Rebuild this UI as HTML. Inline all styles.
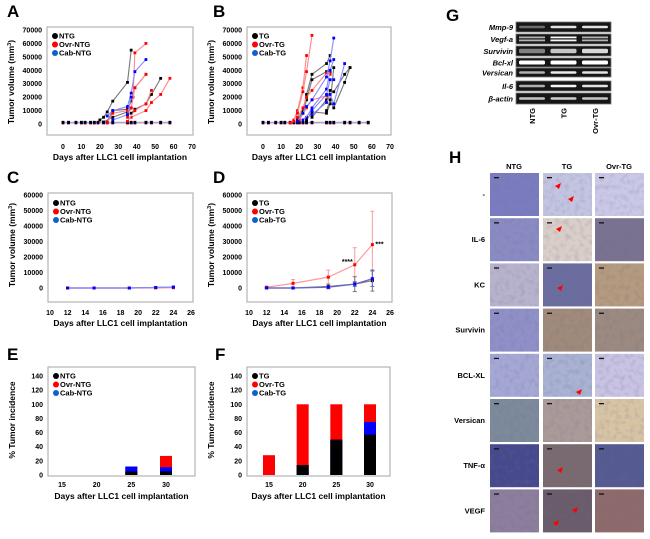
<!DOCTYPE html>
<html><head><meta charset="utf-8"><style>
html,body{margin:0;padding:0;background:#fff}
svg{display:block;font-family:"Liberation Sans",Arial,sans-serif}
.t{font-size:7px;font-weight:bold;fill:#000}
.ti{font-size:8.5px;font-weight:bold;fill:#000}
.pl{font-size:17px;font-weight:bold;fill:#000}
.lg{font-size:7.5px;font-weight:bold}
</style></head><body>
<svg id="fig" width="650" height="539" viewBox="0 0 650 539">
<defs>
<filter id="tex" x="0" y="0" width="100%" height="100%"><feTurbulence type="fractalNoise" baseFrequency="0.2" numOctaves="2" seed="3"/><feColorMatrix values="0 0 0 0 0.15  0 0 0 0 0.15  0 0 0 0 0.3  0 0 0 0.9 -0.4"/><feComposite in2="SourceGraphic" operator="in"/></filter>
</defs>
</svg>
<script>
// ---------- DATA ----------
const aBaseDays=[0,3,7,10,12,15,17,19,22,24,27,35,37,39,45,48,53,58];
const aBlack=[[[20,3000],[22,5000],[24,9000],[27,17000],[35,31000],[37,55000]],[[24,2000],[27,10000],[35,11000],[37,17000],[39,27000],[45,37000]],[[37,8000],[39,11000],[45,15000],[48,22000],[53,34000]],[[22,1500],[27,5000],[35,9000],[37,12000]]];
const aRed=[[[35,5000],[37,12000],[38,20000],[39,53000],[45,60000]],[[24,1000],[27,8000],[35,10000],[37,12000],[39,27000],[45,37000]],[[37,5000],[45,10000],[48,16000],[53,22000],[58,34000]],[[35,2000],[39,10000],[45,15000],[48,25000]]];
const aBlue=[[[24,6000],[27,10000],[35,13000],[37,23000],[39,39000],[45,48000]],[[27,3000],[35,7000],[37,20000]]];
const bBaseDays=[0,3,7,10,12,15,17,19,20,22,24,27,35,37,39,45,48,53,58];
const bBlack=[[[19,3000],[22,10000],[24,22000],[27,37000],[35,45000],[37,51000]],[[22,8000],[24,18000],[27,33000],[35,39000],[37,39000]],[[24,3000],[27,9000],[35,8000],[37,15000],[39,42000]],[[27,5000],[35,18000],[37,25000],[39,24000],[45,37000],[48,42000]],[[35,10000],[37,18000],[39,12000],[45,31000],[48,42000]]];
const bRed=[[[15,1000],[17,3000],[19,10000],[22,27000],[24,51000]],[[17,2000],[19,8000],[22,24000],[24,39000],[27,66000]],[[19,5000],[22,12000],[24,20000],[27,25000],[35,38000],[37,37000]],[[20,3000],[24,12000],[27,18000],[35,21000]]];
const bBlue=[[[19,2000],[22,8000],[24,13000],[27,18000],[35,35000],[37,47000],[39,64000]],[[24,5000],[27,12000],[35,26000],[37,40000],[39,48000]],[[22,3000],[27,10000],[35,22000],[37,33000],[39,33000]],[[27,7000],[35,16000],[37,22000],[39,15000],[45,45000]]];
const cdDays=[12,15,19,22,24];
const cBlack=[0,0,0,300,500];
const cRed=[0,0,0,100,200];
const cBlue=[0,0,0,300,600];
const dRed=[500,3000,7000,15000,28000];
const dRedErr=[500,2500,4500,11000,21500];
const dBlack=[0,0,1000,2500,4800];
const dBlackErr=[300,500,1500,4800,6800];
const dBlue=[0,0,500,2500,6000];
const dBlueErr=[200,300,800,1500,5000];
const efCats=[15,20,25,30];
const eBlack=[0,0,5,5];
const eBlue=[0,0,12,11];
const eRed=[0,0,12,27];
const fBlack=[0,14,50,57];
const fBlue=[0,14,50,75];
const fRed=[28,100,100,100];
const volTicks=[0,10000,20000,30000,40000,50000,60000,70000];
const volTicks60=[0,10000,20000,30000,40000,50000,60000];
const dayTicks=[0,10,20,30,40,50,60,70];
const dayTicksCD=[10,12,14,16,18,20,22,24,26];
const incTicks=[0,20,40,60,80,100,120,140];
const gelGenes=["Mmp-9","Vegf-a","Survivin","Bcl-xl","Versican","Il-6","β-actin"];
const gelLanes=["NTG","TG","Ovr-TG"];
const gelIntensity=[[0.25,0.85,0.85],[0.6,0.95,0.6],[0.35,0.7,0.8],[1,1,1],[0.6,0.9,0.85],[0.6,0.95,0.85],[0.7,0.75,0.7]];
const ihcRows=["-","IL-6","KC","Survivin","BCL-XL","Versican","TNF-α","VEGF"];
const ihcCols=["NTG","TG","Ovr-TG"];
const ihcColors=[["#7b7cc0","#c3c5e0","#c9c9e6"],["#8a8bc2","#d9cfc8","#7a7290"],["#b8b3cc","#6a6d9e","#b49a7e"],["#9090c8","#a08a7a","#9c8a80"],["#a5a8d4","#a9b2d2","#c8c3e2"],["#7d8a9a","#ab9a98","#d8c4a4"],["#464a8c","#7a6a70","#555a90"],["#8c7e9c","#6a5c6a","#8e6a6a"]];

// ---------- HELPERS ----------
const NS="http://www.w3.org/2000/svg";const svg=document.getElementById('fig');
function mk(tag,at,parent,txt){const e=document.createElementNS(NS,tag);for(const k in at)e.setAttribute(k,at[k]);if(txt!==undefined)e.textContent=txt;(parent||svg).appendChild(e);return e;}
function lin(d0,d1,r0,r1){return v=>r0+(v-d0)/(d1-d0)*(r1-r0);}
function group(name){const g=mk('g',{});return g;}
function box(g,x0,y0,x1,y1){const r=mk('rect',{x:x0,y:y0,width:x1-x0,height:y1-y0,fill:'none',stroke:'#b4b4b4','stroke-width':1.2},g);}
function yAxis(g,ticks,ys,xr,fmt){ticks.forEach(v=>{const t=mk('text',{x:xr,y:ys(v)+2.5,'text-anchor':'end',class:'t'},g,fmt?fmt(v):v);});}
function xAxis(g,ticks,xs,y){ticks.forEach(v=>{const t=mk('text',{x:xs(v),y:y,'text-anchor':'middle',class:'t'},g,v);});}
function titles(g,ytxt,yx,yy,xtxt,xx,xy,sup){
 const t=mk('text',{x:xx,y:xy,'text-anchor':'middle',class:'ti'},g,xtxt);
 const yt=mk('text',{transform:`translate(${yx},${yy}) rotate(-90)`,'text-anchor':'middle',class:'ti'},g);
 yt.textContent=ytxt;if(sup){mk('tspan',{dy:-3,'font-size':5.5},yt,'3');mk('tspan',{dy:3},yt,')');}
}
function legend(g,x,y,names){const cols=['#000','#f00','#1060d0'];names.forEach((n,i)=>{mk('circle',{cx:x,cy:y+i*8.5,r:3,fill:cols[i]},g);const t=mk('text',{x:x+4,y:y+i*8.5+2.7,class:'lg'},g,n);});}
function letter(x,y,l){const t=mk('text',{x:x,y:y,class:'pl'},svg,l);}
function series(g,pts,xs,ys,col,line){const s=mk('g',{},g);
 mk('polyline',{points:pts.map(p=>xs(p[0])+','+ys(p[1])).join(' '),fill:'none',stroke:line,'stroke-width':1.1},s);
 pts.forEach(p=>mk('rect',{x:xs(p[0])-1.4,y:ys(p[1])-1.4,width:2.8,height:2.8,fill:col},s));}
function baseline(g,days,xs,ys){[['#ffb0b0','#f00',-1],['#a0a0ff','#00f',0],['#aaa','#000',1]].forEach(c=>{
 series(g,days.map(d=>[d,1000+c[2]*300]),xs,ys,c[1],c[0]);});}

// ---------- PANEL A / B ----------
function volPanel(name,x0,x1,x00,x70,baseDays,blk,red,blu,leg){
 const g=group(name);const xs=lin(0,70,x00,x70);const ys=lin(0,70000,124,30);
 box(g,x0,27,x1,135);yAxis(g,volTicks,ys,x0-5);xAxis(g,dayTicks,xs,149);
 baseline(g,baseDays,xs,ys);
 blk.forEach(p=>series(g,p,xs,ys,'#000','#777'));red.forEach(p=>series(g,p,xs,ys,'#f00','#f88'));blu.forEach(p=>series(g,p,xs,ys,'#00f','#88f'));
 legend(g,x0+8,36,leg);titles(g,'Tumor volume (mm',15+(x0-48),82,'Days after LLC1 cell implantation',(x0+x1)/2,160,true);
}
letter(7,17,'A');letter(213,17,'B');
volPanel('chart-a',47,193,63,192,aBaseDays,aBlack,aRed,aBlue,['NTG','Ovr-NTG','Cab-NTG']);
volPanel('chart-b',247,391,263,390,bBaseDays,bBlack,bRed,bBlue,['TG','Ovr-TG','Cab-TG']);

// ---------- PANEL C / D ----------
function cdPanel(name,x0,x1,sets,leg,stars){
 const g=group(name);const xs=lin(10,26,x0+2,x1-2);const ys=lin(0,60000,288,195);
 box(g,x0,193,x1,302);yAxis(g,volTicks60,ys,x0-5);xAxis(g,dayTicksCD,xs,315);
 sets.forEach(s=>{const sg=mk('g',{},g);
  if(s.e)cdDays.forEach((d,i)=>{const x=xs(d),a=ys(s.v[i]+s.e[i]),b=ys(s.v[i]-s.e[i]);mk('line',{x1:x,x2:x,y1:a,y2:b,stroke:s.l,'stroke-width':1},sg);mk('line',{x1:x-2,x2:x+2,y1:a,y2:a,stroke:s.l},sg);mk('line',{x1:x-2,x2:x+2,y1:b,y2:b,stroke:s.l},sg);});
  mk('polyline',{points:cdDays.map((d,i)=>xs(d)+','+ys(s.v[i])).join(' '),fill:'none',stroke:s.l,'stroke-width':1.2},sg);
  cdDays.forEach((d,i)=>mk('rect',{x:xs(d)-1.5,y:ys(s.v[i])-1.5,width:3,height:3,fill:s.c},sg));});
 if(stars){mk('text',{x:xs(22)-2,y:ys(15000)-1,'text-anchor':'end',class:'t'},g,'****');mk('text',{x:xs(24)+3,y:ys(28000)+2,class:'t'},g,'***');}
 legend(g,x0+8,203,leg);titles(g,'Tumor volume (mm',15+(x0-48),245,'Days after LLC1 cell implantation',(x0+x1)/2,326,true);
}
letter(7,183,'C');letter(213,183,'D');
cdPanel('chart-c',48,193,[{n:'ntg',v:cBlack,c:'#000',l:'#555'},{n:'ovr-ntg',v:cRed,c:'#f00',l:'#f88'},{n:'cab-ntg',v:cBlue,c:'#00f',l:'#88f'}],['NTG','Ovr-NTG','Cab-NTG'],false);
cdPanel('chart-d',247,392,[{n:'ovr-tg',v:dRed,e:dRedErr,c:'#f00',l:'#f99'},{n:'tg',v:dBlack,e:dBlackErr,c:'#000',l:'#777'},{n:'cab-tg',v:dBlue,e:dBlueErr,c:'#00f',l:'#66c'}],['TG','Ovr-TG','Cab-TG'],true);

// ---------- PANEL E / F ----------
function barPanel(name,x0,x1,c15,c30,blk,blu,red,leg){
 const g=group(name);const xs=lin(15,30,c15,c30);const ys=lin(0,140,475,376);
 box(g,x0,367,x1,476);yAxis(g,incTicks,ys,x0-5);xAxis(g,efCats,xs,487);
 efCats.forEach((c,i)=>{const w=12,x=xs(c)-w/2;
  [[red[i],'#f00','bar-ovr-'+c],[blu[i],'#00f','bar-cab-'+c],[blk[i],'#000','bar-base-'+c]].forEach(s=>{if(s[0]>0){const r=mk('rect',{x:x,y:ys(s[0]),width:w,height:ys(0)-ys(s[0]),fill:s[1]},g);}});});
 legend(g,x0+8,376,leg);titles(g,'% Tumor incidence',15+(x0-48),420,'Days after LLC1 cell implantation',(x0+x1)/2,499,false);
}
letter(7,360,'E');letter(215,360,'F');
barPanel('chart-e',48,195,62,166,eBlack,eBlue,eRed,['NTG','Ovr-NTG','Cab-NTG']);
barPanel('chart-f',247,390,269,370,fBlack,fBlue,fRed,['TG','Ovr-TG','Cab-TG']);

// ---------- PANEL G ----------
letter(446,21,'G');
(function(){const g=group('gel-panel');const rows=[[22,32],[34,44],[46,56],[58,67],[68,77],[81,91],[93,104]];
 gelGenes.forEach((n,i)=>{const [a,b]=rows[i];
  const t=mk('text',{x:513,y:(a+b)/2+3,'text-anchor':'end',class:'lg','font-style':'italic'},g,n);
  const r=mk('rect',{x:516,y:a,width:95,height:b-a,fill:'#161616',stroke:'#777','stroke-width':0.8},g);
  gelIntensity[i].forEach((v,j)=>{const cx=532+j*31.5,gv=Math.round(60+v*195);const col=`rgb(${gv},${gv},${gv})`;
   if(i===1){mk('rect',{x:cx-13,y:a+2.5,width:26,height:1.8,fill:col},g);mk('rect',{x:cx-13,y:a+5.5,width:26,height:1.8,fill:col},g);}
   else{const h=i===2?4.5:(i===3?4:2.5);mk('rect',{x:cx-13,y:(a+b)/2-h/2,width:26,height:h,rx:1.5,fill:col},g);}});});
 gelLanes.forEach((n,j)=>{const t=mk('text',{transform:`translate(${532+j*31.5+3},108) rotate(-90)`,'text-anchor':'end',class:'lg'},g,n);});
})();

// ---------- PANEL H ----------
letter(449,163,'H');
(function(){const g=group('ihc-panel');const cx=[490,543,595];
 ihcCols.forEach((n,j)=>{const t=mk('text',{x:cx[j]+24,y:169,'text-anchor':'middle',class:'lg'},g,n);});
 ihcRows.forEach((n,i)=>{const y=173+i*45.2;
  const t=mk('text',{x:485,y:y+24,'text-anchor':'end',class:'lg'},g,n);
  cx.forEach((x,j)=>{const r=mk('rect',{x:x,y:y,width:49,height:43,fill:ihcColors[i][j]},g);
   mk('rect',{x:x,y:y,width:49,height:43,fill:'#fff',filter:'url(#tex)',opacity:0.6},g);
   mk('rect',{x:x+4,y:y+4,width:5,height:1.3,fill:'#111'},g);});});
 [[555,186],[568,199],[556,229],[557,288],[576,392],[557,470],[572,510],[553,523]].forEach(p=>mk('polygon',{points:`${p[0]},${p[1]} ${p[0]+6},${p[1]-3} ${p[0]+4},${p[1]+3}`,fill:'#f00'},g));
})();
</script>
</body></html>
